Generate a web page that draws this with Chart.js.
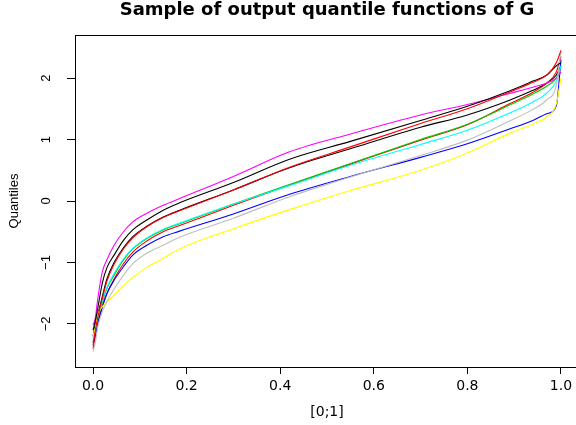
<!DOCTYPE html>
<html>
<head>
<meta charset="utf-8">
<script src="https://cdn.jsdelivr.net/npm/chart.js@4.4.1/dist/chart.umd.min.js"></script>
<style>
html,body{margin:0;padding:0;overflow:hidden;background:#fff;width:576px;height:425px}
#wrap{width:580px;height:425px}
</style>
</head>
<body>
<div id="wrap"><canvas id="c" width="580" height="425"></canvas></div>
<script>
// probability grid on [0;1]
const xGrid = [0, 0.005, 0.01, 0.02, 0.03, 0.045, 0.065, 0.085, 0.115, 0.15, 0.185, 0.3, 0.42, 0.55, 0.7, 0.8, 0.89, 0.94, 0.97, 0.99, 1.0];

// quantile curves (R default palette order)
const qBlack1  = [-2.2,-2.0,-1.85,-1.55,-1.26,-1.0,-0.76,-0.58,-0.41,-0.26,-0.15,0.18,0.54,0.85,1.20,1.40,1.64,1.80,1.92,2.05,2.2];
const qRed1    = [-2.4,-2.2,-2.0,-1.72,-1.5,-1.27,-1.02,-0.83,-0.65,-0.5,-0.40,-0.07,0.26,0.60,0.99,1.24,1.58,1.77,1.92,2.1,2.35];
const qGreen   = [-2.3,-2.15,-1.95,-1.65,-1.42,-1.21,-0.96,-0.78,-0.61,-0.47,-0.37,-0.05,0.27,0.61,1.00,1.25,1.56,1.74,1.87,2.0,2.2];
const qBlue    = [-2.3,-2.2,-2.0,-1.72,-1.50,-1.29,-1.07,-0.88,-0.72,-0.58,-0.49,-0.21,0.11,0.40,0.71,0.93,1.17,1.31,1.42,1.55,2.3];
const qCyan    = [-2.25,-2.1,-1.9,-1.62,-1.40,-1.18,-0.94,-0.77,-0.60,-0.46,-0.36,-0.05,0.25,0.58,0.92,1.15,1.43,1.61,1.76,1.95,2.2];
const qMagenta = [-2.02,-1.9,-1.6,-1.15,-0.95,-0.72,-0.50,-0.34,-0.20,-0.07,0.04,0.40,0.80,1.09,1.40,1.57,1.75,1.85,1.92,2.0,2.1];
const qYellow  = [-2.2,-2.05,-1.85,-1.72,-1.64,-1.53,-1.38,-1.24,-1.08,-0.93,-0.78,-0.45,-0.14,0.17,0.50,0.78,1.10,1.25,1.37,1.58,2.0];
const qGray    = [-2.45,-2.3,-2.05,-1.8,-1.63,-1.43,-1.21,-1.02,-0.85,-0.72,-0.59,-0.28,0.07,0.39,0.74,0.99,1.30,1.49,1.65,1.88,2.45];
const qBlack2  = [-2.1,-1.95,-1.75,-1.33,-1.08,-0.88,-0.64,-0.47,-0.31,-0.15,-0.03,0.30,0.68,0.97,1.31,1.54,1.79,1.95,2.05,2.2,2.25];
const qRed2    = [-2.35,-2.1,-1.9,-1.58,-1.30,-1.03,-0.78,-0.60,-0.42,-0.27,-0.16,0.18,0.55,0.88,1.26,1.50,1.77,1.93,2.05,2.25,2.45];

const xTicks = [0, 0.2, 0.4, 0.6, 0.8, 1.0];
const yTicks = [-2, -1, 0, 1, 2];

const seriesList = [
  {data: qBlack1, color: '#000000'},
  {data: qRed1, color: '#FF0000'},
  {data: qGreen, color: '#00CD00'},
  {data: qBlue, color: '#0000FF'},
  {data: qCyan, color: '#00FFFF'},
  {data: qMagenta, color: '#FF00FF'},
  {data: qYellow, color: '#FFFF00'},
  {data: qGray, color: '#BEBEBE'},
  {data: qBlack2, color: '#000000'},
  {data: qRed2, color: '#FF0000'}
];

// Chart.js draws dataset 0 on top, so reverse R's drawing order
const datasets = seriesList.slice().reverse().map(s => ({
  data: xGrid.map((x, i) => ({x: x, y: s.data[i]})),
  borderColor: s.color,
  borderWidth: 1.1,
  pointRadius: 0,
  fill: false,
  cubicInterpolationMode: 'monotone'
}));

const boxAndTitle = {
  id: 'boxAndTitle',
  afterDraw(chart) {
    const {ctx, chartArea: a} = chart;
    ctx.save();
    ctx.strokeStyle = '#000';
    ctx.lineWidth = 1;
    ctx.strokeRect(a.left + 0.5, a.top + 0.5, a.right - a.left, a.bottom - a.top);
    ctx.fillStyle = '#000';
    ctx.font = 'bold 18px "DejaVu Sans"';
    ctx.textAlign = 'center';
    ctx.textBaseline = 'middle';
    ctx.fillText('Sample of output quantile functions of G', (a.left + a.right) / 2, 10);
    ctx.restore();
  }
};

new Chart(document.getElementById('c'), {
  type: 'line',
  data: {datasets},
  options: {
    responsive: false,
    animation: false,
    devicePixelRatio: 1,
    layout: {padding: {top: 35, right: 1, left: 0, bottom: 0}},
    plugins: {legend: {display: false}, tooltip: {enabled: false}, title: {display: false}},
    scales: {
      x: {
        type: 'linear',
        min: -0.0385,
        max: 1.0385,
        afterBuildTicks: s => { s.ticks = xTicks.map(v => ({value: v})); },
        afterFit: s => { s.height = 58; },
        ticks: {
          callback: v => v.toFixed(1),
          font: {family: 'DejaVu Sans', size: 14},
          color: '#000',
          padding: 4,
          maxRotation: 0,
          autoSkip: false
        },
        grid: {drawOnChartArea: false, drawTicks: true, tickLength: 7, tickColor: '#000'},
        border: {display: true, color: '#000', width: 1},
        title: {display: true, text: '[0;1]', font: {family: 'DejaVu Sans', size: 14}, color: '#000', padding: {top: 0, bottom: 4}}
      },
      y: {
        type: 'linear',
        min: -2.7,
        max: 2.7,
        afterBuildTicks: s => { s.ticks = yTicks.map(v => ({value: v})); },
        afterFit: s => { s.width = 75; },
        ticks: {
          callback: v => String(v).replace('-', '\u2212'),
          font: {family: 'Liberation Sans', size: 13},
          color: '#000',
          padding: 13,
          minRotation: 90,
          maxRotation: 90,
          crossAlign: 'center',
          autoSkip: false
        },
        grid: {drawOnChartArea: false, drawTicks: true, tickLength: 8, tickColor: '#000'},
        border: {display: true, color: '#000', width: 1},
        title: {display: true, text: 'Quantiles', font: {family: 'Liberation Sans', size: 13}, color: '#000', padding: {top: 7, bottom: 0}}
      }
    }
  },
  plugins: [boxAndTitle]
});
</script>
</body>
</html>
